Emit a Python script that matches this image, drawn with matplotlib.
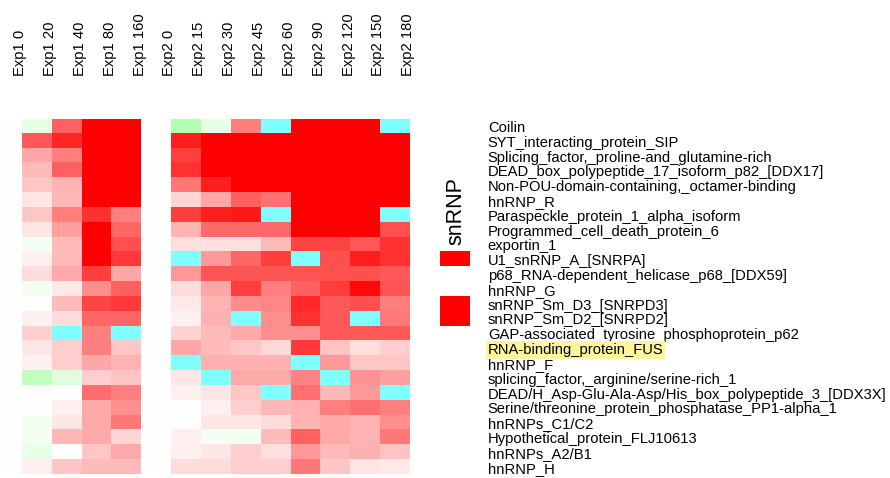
import numpy as np
import matplotlib
matplotlib.use("Agg")
import matplotlib.pyplot as plt
from matplotlib.colors import LinearSegmentedColormap, ListedColormap

W, H = 890, 478
NA = np.nan

columns = ["Exp1 0", "Exp1 20", "Exp1 40", "Exp1 80", "Exp1 160",
           "Exp2 0", "Exp2 15", "Exp2 30", "Exp2 45", "Exp2 60",
           "Exp2 90", "Exp2 120", "Exp2 150", "Exp2 180"]

proteins = ["Coilin", "SYT_interacting_protein_SIP",
            "Splicing_factor,_proline-and_glutamine-rich",
            "DEAD_box_polypeptide_17_isoform_p82_[DDX17]",
            "Non-POU-domain-containing,_octamer-binding", "hnRNP_R",
            "Paraspeckle_protein_1_alpha_isoform", "Programmed_cell_death_protein_6",
            "exportin_1", "U1_snRNP_A_[SNRPA]", "p68_RNA-dependent_helicase_p68_[DDX59]",
            "hnRNP_G", "snRNP_Sm_D3_[SNRPD3]", "snRNP_Sm_D2_[SNRPD2]",
            "GAP-associated_tyrosine_phosphoprotein_p62", "RNA-binding_protein_FUS",
            "hnRNP_F", "splicing_factor,_arginine/serine-rich_1",
            "DEAD/H_Asp-Glu-Ala-Asp/His_box_polypeptide_3_[DDX3X]",
            "Serine/threonine_protein_phosphatase_PP1-alpha_1", "hnRNPs_C1/C2",
            "Hypothetical_protein_FLJ10613", "hnRNPs_A2/B1", "hnRNP_H"]

# relative change per time point (negative = green, NaN = missing / cyan)
exp1 = [
    [0, -0.10, 0.62, 1.00, 1.00],
    [0, 0.65, 0.85, 1.00, 1.00],
    [0, 0.35, 0.50, 1.00, 1.00],
    [0, 0.27, 0.62, 1.00, 1.00],
    [0, 0.22, 0.29, 1.00, 1.00],
    [0, 0.10, 0.28, 1.00, 1.00],
    [0, 0.22, 0.50, 0.80, 0.50],
    [0, 0.10, 0.37, 1.00, 0.60],
    [0, -0.05, 0.27, 1.00, 0.68],
    [0, 0.06, 0.27, 1.00, 0.77],
    [0, 0.14, 0.33, 0.75, 0.35],
    [0, -0.05, 0.09, 0.44, 0.62],
    [0, 0.00, 0.27, 0.73, 0.77],
    [0, 0.06, 0.14, 0.60, 0.60],
    [0, 0.19, NA, 0.50, NA],
    [0, 0.10, 0.19, 0.50, 0.22],
    [0, 0.06, 0.19, 0.35, 0.29],
    [0, -0.25, -0.12, 0.19, 0.23],
    [0, 0.00, 0.00, 0.57, 0.50],
    [0, 0.00, 0.06, 0.33, 0.44],
    [0, -0.05, 0.10, 0.33, 0.53],
    [0, -0.05, 0.28, 0.33, 0.16],
    [0, -0.09, 0.00, 0.22, 0.33],
    [0, 0.06, 0.22, 0.27, 0.27],
]
exp2 = [
    [0, -0.30, -0.10, 0.50, NA, 1.00, 1.00, 1.00, NA],
    [0, 0.88, 1.00, 1.00, 1.00, 1.00, 1.00, 1.00, 1.00],
    [0, 0.75, 1.00, 1.00, 1.00, 1.00, 1.00, 1.00, 1.00],
    [0, 0.80, 1.00, 1.00, 1.00, 1.00, 1.00, 1.00, 1.00],
    [0, 0.53, 0.88, 1.00, 1.00, 1.00, 1.00, 1.00, 1.00],
    [0, 0.16, 0.35, 0.62, 0.56, 1.00, 1.00, 1.00, 1.00],
    [0, 0.75, 0.88, 0.90, NA, 1.00, 1.00, 1.00, NA],
    [0, 0.29, 0.58, 0.58, 0.58, 1.00, 1.00, 1.00, 0.68],
    [0, 0.13, 0.13, 0.13, 0.27, 0.73, 0.73, 0.65, 0.80],
    [0, NA, 0.40, 0.60, 0.75, NA, 0.68, 0.88, 0.80],
    [0, 0.40, 0.67, 0.67, 0.67, 0.67, 0.68, 0.68, 0.65],
    [0, 0.14, 0.35, 0.75, 0.50, 0.62, 0.76, 0.96, 0.67],
    [0, 0.09, 0.29, 0.45, 0.47, 0.83, 0.65, 0.68, 0.50],
    [0, 0.06, 0.31, NA, 0.44, 0.80, 0.65, NA, 0.53],
    [0, 0.17, 0.27, 0.33, 0.44, 0.44, 0.65, 0.65, 0.65],
    [0, 0.35, 0.27, 0.22, 0.15, 0.77, 0.23, 0.13, 0.19],
    [0, NA, 0.31, 0.31, 0.31, NA, 0.40, 0.22, 0.22],
    [0, 0.10, NA, 0.33, 0.33, 0.48, NA, 0.42, 0.37],
    [0, 0.06, 0.10, 0.22, NA, 0.56, 0.28, 0.40, NA],
    [0, 0.00, 0.06, 0.19, 0.28, 0.31, 0.50, 0.57, 0.50],
    [0, 0.00, 0.10, 0.10, 0.14, 0.29, 0.34, 0.29, 0.44],
    [0, 0.06, -0.05, -0.05, 0.27, 0.62, 0.34, 0.29, 0.53],
    [0, 0.06, 0.10, 0.19, 0.13, 0.40, 0.27, 0.31, 0.23],
    [0, 0.14, 0.14, 0.19, 0.19, 0.53, 0.22, 0.10, 0.08],
]
snrnp = [0, 0, 0, 0, 0, 0, 0, 0, 0, 1, 0, 0, 1, 1, 0, 0, 0, 0, 0, 0, 0, 0, 0, 0]
highlight = "RNA-binding_protein_FUS"

data = np.hstack([np.array(exp1, float), np.array(exp2, float)])

plt.rcParams["font.family"] = ["Liberation Sans", "DejaVu Sans"]
fig = plt.figure(figsize=(W / 100, H / 100), dpi=100)

def px_axes(x0, y0, x1, y1):
    return fig.add_axes([x0 / W, 1 - y1 / H, (x1 - x0) / W, (y1 - y0) / H])

cmap = LinearSegmentedColormap.from_list("gwr", ["#00ff00", "#ffffff", "#ff0000"])
cmap.set_bad("#80ffff")

TOP, BOT = 119, 474.5
ax = px_axes(-7.85, TOP, 410, BOT)
ax.imshow(np.ma.masked_invalid(data), cmap=cmap, vmin=-1, vmax=1,
          aspect="auto", interpolation="nearest")
for s in ax.spines.values():
    s.set_visible(False)

ax.set_xticks(np.arange(len(columns)) + 0.44)
ax.set_xticklabels(columns, rotation=90, fontsize=10.6)
ax.xaxis.tick_top()
ax.tick_params(axis="x", length=0, pad=31)
ax.set_yticks(np.arange(len(proteins)))
ax.set_yticklabels(proteins, fontsize=10.6)
ax.yaxis.tick_right()
ax.tick_params(axis="y", length=0, pad=56)
for lab in ax.get_yticklabels():
    if lab.get_text() == highlight:
        lab.set_bbox(dict(facecolor="#fff59a", edgecolor="none", pad=1.5))

side = px_axes(440, TOP, 469.5, BOT)
side.imshow(np.array(snrnp, float)[:, None], cmap=ListedColormap(["#ffffff", "#ff0000"]),
            vmin=0, vmax=1, aspect="auto", interpolation="nearest")
side.axis("off")

fig.text(455.5 / W, 1 - 211 / H, "snRNP", rotation=90, ha="center", va="center", fontsize=15.5)

fig.savefig("out.png", dpi=100, facecolor="white")
